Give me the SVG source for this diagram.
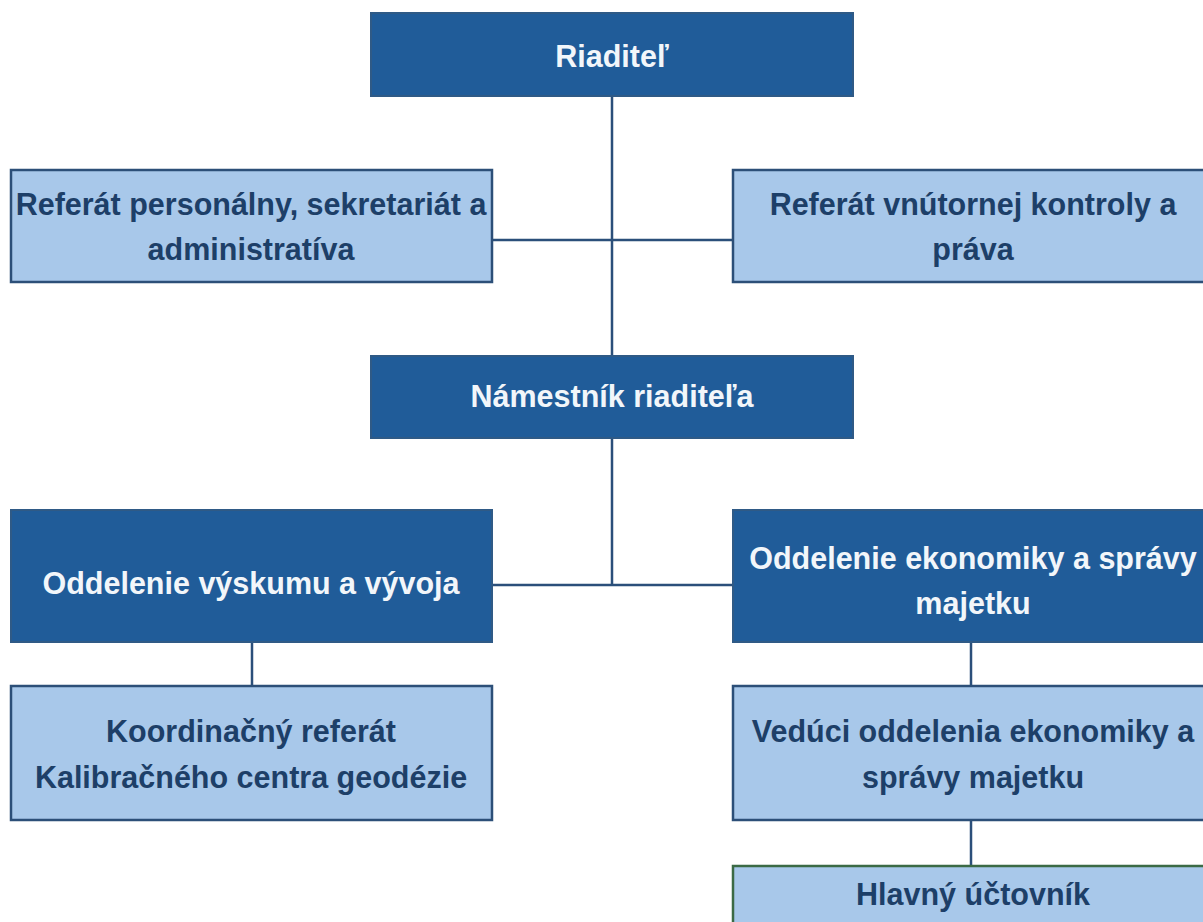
<svg xmlns="http://www.w3.org/2000/svg" width="1203" height="922" viewBox="0 0 1203 922">
<style>
.dark{fill:#205c99;stroke:#2f5a86;stroke-width:2}
.light{fill:#a8c8ea;stroke:#2c4f78;stroke-width:2.5}
.green{fill:#a8c8ea;stroke:#3b6a45;stroke-width:2.5}
.tw{font-family:"Liberation Sans",Arial,sans-serif;font-weight:bold;font-size:30.5px;fill:#f2f6fa;text-anchor:middle}
.td{font-family:"Liberation Sans",Arial,sans-serif;font-weight:bold;font-size:30.5px;fill:#1d3f68;text-anchor:middle}
.conn{stroke:#2b4f7a;stroke-width:2.5;fill:none}
</style>
<rect width="1203" height="922" fill="#ffffff"/>
<g id="connectors">
<line class="conn" x1="612" y1="96" x2="612" y2="356"/>
<line class="conn" x1="492" y1="240" x2="733" y2="240"/>
<line class="conn" x1="612" y1="438" x2="612" y2="585"/>
<line class="conn" x1="492" y1="585" x2="733" y2="585"/>
<line class="conn" x1="252" y1="642" x2="252" y2="686"/>
<line class="conn" x1="971" y1="642" x2="971" y2="686"/>
<line class="conn" x1="971" y1="820" x2="971" y2="866"/>
</g>
<g id="riaditel">
<rect class="dark" x="371" y="13" width="482" height="83"/>
<text class="tw" x="612" y="67">Riaditeľ</text>
</g>
<g id="ref-personalny">
<rect class="light" x="11" y="170" width="481" height="112"/>
<text class="td" x="251" y="215">Referát personálny, sekretariát a</text>
<text class="td" x="251" y="260">administratíva</text>
</g>
<g id="ref-kontroly">
<rect class="light" x="733" y="170" width="480" height="112"/>
<text class="td" x="973" y="215">Referát vnútornej kontroly a</text>
<text class="td" x="973" y="260">práva</text>
</g>
<g id="namestnik">
<rect class="dark" x="371" y="356" width="482" height="82"/>
<text class="tw" x="612" y="407">Námestník riaditeľa</text>
</g>
<g id="odd-vyskumu">
<rect class="dark" x="11" y="510" width="481" height="132"/>
<text class="tw" x="251" y="594">Oddelenie výskumu a vývoja</text>
</g>
<g id="odd-ekonomiky">
<rect class="dark" x="733" y="510" width="480" height="132"/>
<text class="tw" x="973" y="569">Oddelenie ekonomiky a správy</text>
<text class="tw" x="973" y="614">majetku</text>
</g>
<g id="koordinacny">
<rect class="light" x="11" y="686" width="481" height="134"/>
<text class="td" x="251" y="742">Koordinačný referát</text>
<text class="td" x="251" y="788">Kalibračného centra geodézie</text>
</g>
<g id="veduci">
<rect class="light" x="733" y="686" width="480" height="134"/>
<text class="td" x="973" y="742">Vedúci oddelenia ekonomiky a</text>
<text class="td" x="973" y="788">správy majetku</text>
</g>
<g id="hlavny">
<rect class="green" x="733" y="866" width="480" height="80"/>
<text class="td" x="973" y="905">Hlavný účtovník</text>
</g>
</svg>
